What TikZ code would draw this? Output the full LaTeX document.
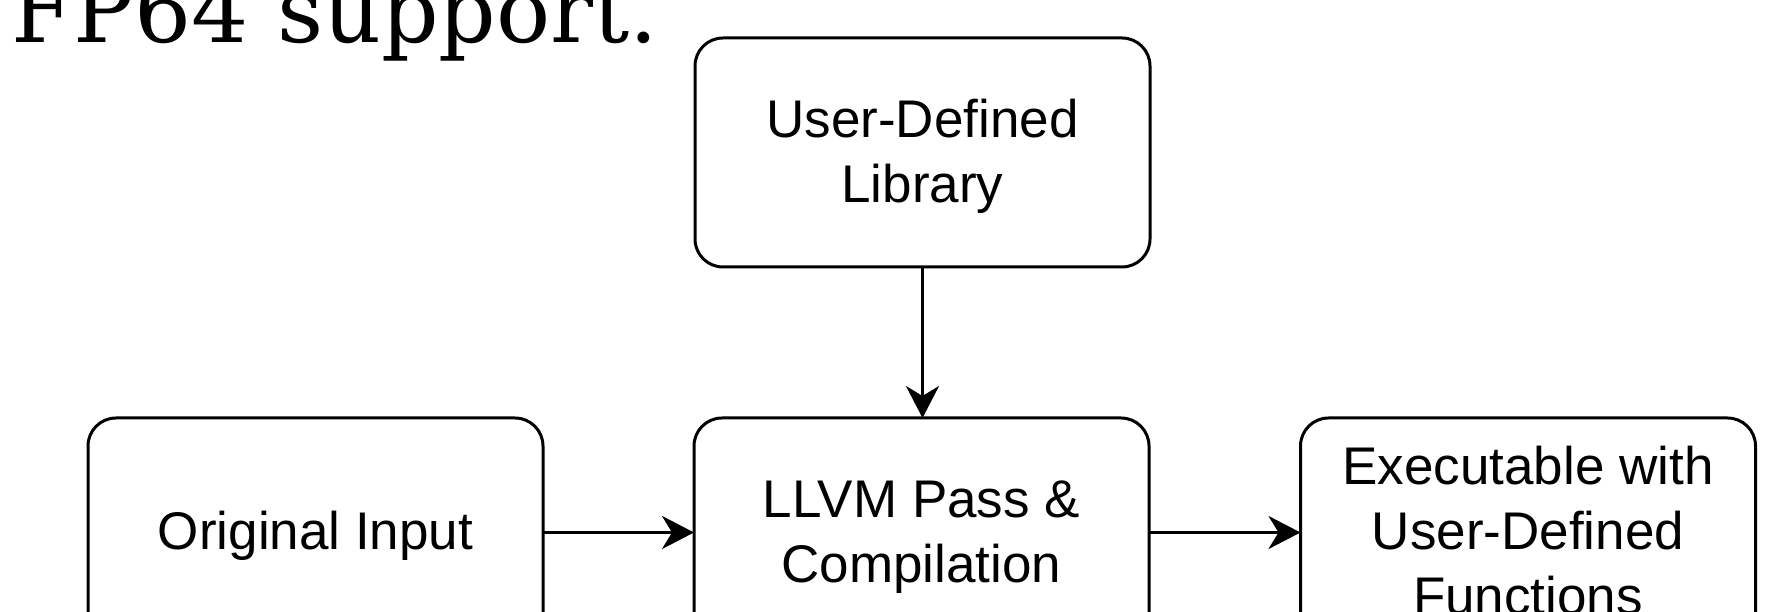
\documentclass[tikz,border=0pt]{standalone}
\usepackage{fontspec}
\setmainfont{Liberation Sans}
\newfontfamily\titlefont{DejaVu Serif}
\usetikzlibrary{arrows.meta}
\newcommand{\lnstrut}{\rule[-15pt]{0pt}{65pt}}
\tikzset{
  flowbox/.style={draw=black, line width=3pt, fill=white, rounded corners=28pt,
    minimum width=455pt, minimum height=229pt, inner sep=0pt, outer sep=0pt,
    align=center, font=\fontsize{53}{65}\selectfont},
  arr/.style={line width=3pt, -{Stealth[length=32pt, width=33pt, inset=10pt]}}
}
\begin{document}
\begin{tikzpicture}[x=1pt,y=1pt]
\useasboundingbox[fill=white] (0,0) rectangle (1785,612);
\clip (0,0) rectangle (1785,612);
\node[anchor=base west, inner sep=0pt, font=\titlefont\fontsize{90}{100}\selectfont] (title) at (11,569) {FP64 support.};
\node[flowbox] (lib) at (922.5,459.5) {\lnstrut User-Defined\\\lnstrut Library};
\node[flowbox] (orig) at (315.5,79.5) {\lnstrut Original Input};
\node[flowbox] (llvm) at (921.5,79.5) {\lnstrut LLVM Pass \&\\\lnstrut Compilation};
\node[flowbox] (exe) at (1528,79.5) {\lnstrut Executable with\\\lnstrut User-Defined\\\lnstrut Functions};
\draw[arr] (lib.south) -- (lib.south |- llvm.north);
\draw[arr] (orig.east) -- (llvm.west);
\draw[arr] (llvm.east) -- (exe.west);
\end{tikzpicture}
\end{document}
